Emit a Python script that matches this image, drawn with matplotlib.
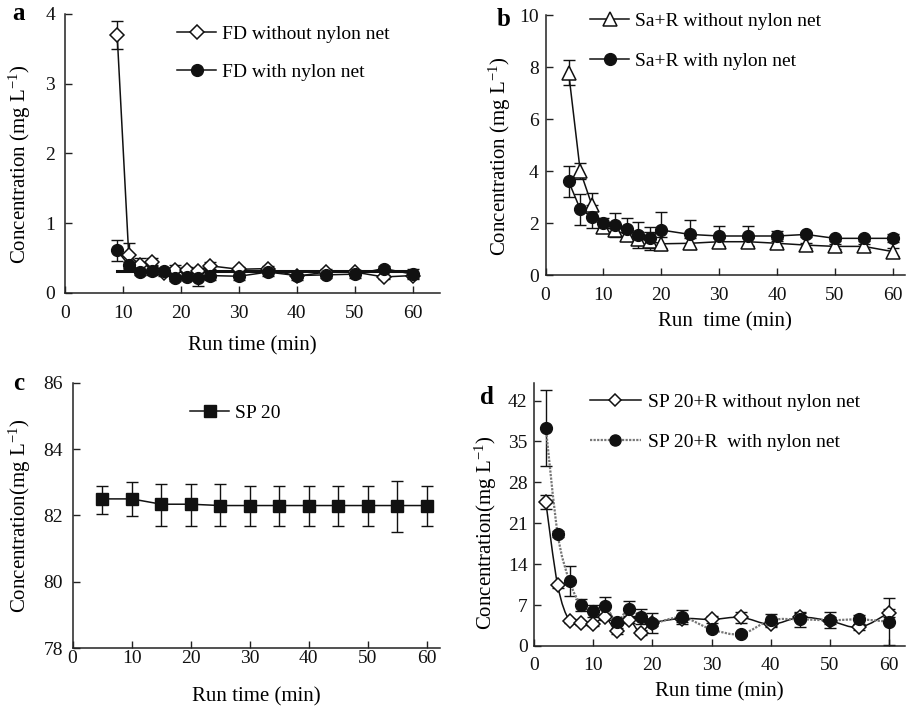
import numpy as np
import matplotlib
matplotlib.use("Agg")
import matplotlib.pyplot as plt
from matplotlib.lines import Line2D
from matplotlib.path import Path
from matplotlib.patches import PathPatch

plt.rcParams['font.family'] = ['Liberation Serif', 'DejaVu Serif']
plt.rcParams['mathtext.fontset'] = 'custom'
plt.rcParams['mathtext.rm'] = 'Liberation Serif'
plt.rcParams['mathtext.it'] = 'Liberation Serif'
plt.rcParams['font.size'] = 14

# ---------------- data ----------------
# Panel a
fd_x = [9, 11, 13, 15, 17, 19, 21, 23, 25, 30, 35, 40, 45, 50, 55, 60]
fd_without = [3.70, 0.54, 0.40, 0.45, 0.28, 0.33, 0.33, 0.32, 0.39, 0.34, 0.35, 0.24, 0.30, 0.30, 0.23, 0.25]
fd_without_err = [0.20, 0.18, 0.10, 0.05, 0.04, 0.07, 0.04, 0.04, 0.05, 0.03, 0.04, 0.03, 0.04, 0.03, 0.03, 0.03]
fd_with = [0.61, 0.40, 0.30, 0.32, 0.32, 0.21, 0.23, 0.22, 0.25, 0.24, 0.30, 0.25, 0.26, 0.27, 0.35, 0.27]
fd_with_err = [0.15, 0.05, 0.04, 0.06, 0.04, 0.04, 0.05, 0.12, 0.06, 0.06, 0.06, 0.06, 0.04, 0.06, 0.03, 0.07]
fd_mean_x = [9, 60]
fd_mean_y = [0.31, 0.31]

# Panel b
sa_x = [4, 6, 8, 10, 12, 14, 16, 18, 20, 25, 30, 35, 40, 45, 50, 55, 60]
sa_without = [7.78, 4.00, 2.70, 1.85, 1.73, 1.54, 1.40, 1.30, 1.20, 1.22, 1.28, 1.28, 1.22, 1.15, 1.10, 1.10, 0.90]
sa_without_err = [0.48, 0.30, 0.45, 0.15, 0.20, 0.20, 0.25, 0.35, 0.25, 0.20, 0.15, 0.15, 0.15, 0.10, 0.10, 0.10, 0.15]
sa_with = [3.60, 2.53, 2.24, 1.99, 1.92, 1.76, 1.54, 1.44, 1.73, 1.56, 1.50, 1.50, 1.50, 1.56, 1.41, 1.41, 1.41]
sa_with_err = [0.60, 0.60, 0.45, 0.20, 0.45, 0.45, 0.50, 0.40, 0.70, 0.55, 0.40, 0.40, 0.20, 0.10, 0.10, 0.10, 0.15]

# Panel c
sp_x = [5, 10, 15, 20, 25, 30, 35, 40, 45, 50, 55, 60]
sp_y = [82.50, 82.50, 82.34, 82.34, 82.30, 82.30, 82.30, 82.30, 82.30, 82.30, 82.30, 82.30]
sp_err_low = [0.45, 0.53, 0.67, 0.67, 0.63, 0.63, 0.63, 0.63, 0.63, 0.63, 0.80, 0.63]
sp_err_up = [0.40, 0.50, 0.61, 0.61, 0.65, 0.60, 0.60, 0.60, 0.60, 0.60, 0.75, 0.60]

# Panel d
spr_x = [2, 4, 6, 8, 10, 12, 14, 16, 18, 20, 25, 30, 35, 40, 45, 50, 55, 60]
spr_without = [24.6, 10.4, 4.3, 3.9, 3.7, 4.9, 2.6, 4.5, 2.3, 3.9, 4.7, 4.55, 4.9, 3.7, 4.9, 4.3, 3.2, 5.7]
spr_without_err = [1.2, 0.4, 0.4, 0.3, 0.3, 0.5, 0.5, 0.5, 0.4, 0.5, 0.6, 0.6, 1.0, 0.5, 0.7, 0.6, 0.5, 0.7]
spr_with = [37.3, 19.2, 11.1, 7.0, 6.0, 6.8, 4.15, 6.4, 5.0, 3.9, 4.9, 2.85, 2.05, 4.4, 4.55, 4.4, 4.55, 4.15]
spr_with_err = [6.5, 0.5, 2.6, 1.0, 1.0, 1.5, 0.5, 1.3, 1.3, 1.7, 1.2, 0.3, 0.3, 1.0, 1.3, 1.4, 0.8, 4.0]

xticks = [0, 10, 20, 30, 40, 50, 60]

# ---------------- figure ----------------
fig = plt.figure(figsize=(9.12, 7.08), dpi=100)

W, H = 912.0, 708.0
def px_axes(left, right, top, bottom):
    return fig.add_axes([left / W, 1 - bottom / H, (right - left) / W, (bottom - top) / H])

ax_a = px_axes(65, 440, 14, 293)
ax_b = px_axes(545.5, 905, 15, 275)
ax_c = px_axes(72.6, 440, 382.7, 648.3)
ax_d = px_axes(534, 905, 383, 646)

def style(ax, xpad, ypad):
    for s in ['top', 'right']:
        ax.spines[s].set_visible(False)
    for s in ['left', 'bottom']:
        ax.spines[s].set_linewidth(1.1)
        ax.spines[s].set_color('#222222')
    ax.tick_params(direction='in', length=5, width=1, colors='#222222', labelcolor='#111111', labelsize=14)
    ax.tick_params(axis='x', pad=xpad)
    ax.tick_params(axis='y', pad=ypad)
    ax.set_xticks(xticks)

eb_kw = dict(fmt='none', ecolor='#111111', elinewidth=1, capsize=4, capthick=1, zorder=2)

# ---- panel a ----
ax = ax_a
style(ax, 8.5, 7)
ax.errorbar(fd_x, fd_without, yerr=fd_without_err, **eb_kw)
ax.errorbar(fd_x, fd_with, yerr=fd_with_err, **eb_kw)
ax.plot(fd_mean_x, fd_mean_y, color='#111111', lw=2.2, zorder=2)
ax.plot(fd_x, fd_without, color='#111111', lw=1.1, marker='D', ms=7, mfc='white', mec='#111111', mew=1.1, zorder=3)
ax.plot(fd_x, fd_with, color='#111111', lw=1.1, marker='o', ms=8.5, mfc='#111111', mec='#111111', zorder=4)
ax.set_xlim(0, 64.7)
ax.set_ylim(0, 4)
ax.set_yticks([0, 1, 2, 3, 4])
ax.set_ylabel('Concentration (mg L$^{-1}$)', fontsize=15)
ax.yaxis.set_label_coords(-0.085, 0.46)
ax.set_xlabel('Run time (min)', fontsize=15)
ax.xaxis.set_label_coords(0.5, -0.155)
h1 = Line2D([], [], color='#111111', lw=1.1, marker='D', ms=7, mfc='white', mec='#111111', mew=1.1)
h2 = Line2D([], [], color='#111111', lw=1.1, marker='o', ms=8.5, mfc='#111111', mec='#111111')
ax.legend([h1, h2], ['FD without nylon net', 'FD with nylon net'], loc='upper left',
          bbox_to_anchor=(0.30, 0.96), frameon=False, borderpad=0, borderaxespad=0,
          handlelength=2.0, handletextpad=0.3, labelspacing=1.05, fontsize=14)
fig.text(19 / W, 1 - 14 / H, 'a', fontsize=18, fontweight='bold', ha='center', va='center')

# ---- panel b ----
ax = ax_b
style(ax, 9, 5)
ax.errorbar(sa_x, sa_without, yerr=sa_without_err, **eb_kw)
ax.errorbar(sa_x, sa_with, yerr=sa_with_err, **eb_kw)
ax.plot(sa_x, sa_without, color='#111111', lw=1.1, marker='^', ms=10, mfc='white', mec='#111111', mew=1.1, zorder=3)
ax.plot(sa_x, sa_with, color='#111111', lw=1.1, marker='o', ms=8.5, mfc='#111111', mec='#111111', zorder=4)
ax.set_xlim(0, 62.1)
ax.set_ylim(0, 10)
ax.set_yticks([0, 2, 4, 6, 8, 10])
ax.set_ylabel('Concentration (mg L$^{-1}$)', fontsize=15)
ax.yaxis.set_label_coords(-0.09, 0.455)
ax.set_xlabel('Run  time (min)', fontsize=15)
ax.xaxis.set_label_coords(0.5, -0.145)
h1 = Line2D([], [], color='#111111', lw=1.1, marker='^', ms=10, mfc='white', mec='#111111', mew=1.1)
h2 = Line2D([], [], color='#111111', lw=1.1, marker='o', ms=8.5, mfc='#111111', mec='#111111')
ax.legend([h1, h2], ['Sa+R without nylon net', 'Sa+R with nylon net'], loc='upper left',
          bbox_to_anchor=(0.124, 1.01), frameon=False, borderpad=0, borderaxespad=0,
          handlelength=2.0, handletextpad=0.3, labelspacing=1.15, fontsize=14)
fig.text(504 / W, 1 - 19 / H, 'b', fontsize=18, fontweight='bold', ha='center', va='center')

# ---- panel c ----
ax = ax_c
style(ax, 1.5, 7)
ax.errorbar(sp_x, sp_y, yerr=[sp_err_low, sp_err_up], **eb_kw)
ax.plot(sp_x, sp_y, color='#111111', lw=1.1, marker='s', ms=8.5, mfc='#111111', mec='#111111', zorder=3)
ax.set_xlim(0, 62.2)
ax.set_ylim(78, 86)
ax.set_yticks([78, 80, 82, 84, 86])
ax.set_ylabel('Concentration(mg L$^{-1}$)', fontsize=15)
ax.yaxis.set_label_coords(-0.108, 0.5)
ax.set_xlabel('Run time (min)', fontsize=15)
ax.xaxis.set_label_coords(0.5, -0.146)
h1 = Line2D([], [], color='#111111', lw=1.1, marker='s', ms=8.5, mfc='#111111', mec='#111111')
ax.legend([h1], ['SP 20'], loc='upper left',
          bbox_to_anchor=(0.32, 0.92), frameon=False, borderpad=0, borderaxespad=0,
          handlelength=2.0, handletextpad=0.3, fontsize=14)
fig.text(19 / W, 1 - 383 / H, 'c', fontsize=18, fontweight='bold', ha='center', va='center')

# ---- panel d ----
ax = ax_d
style(ax, 8, 4.5)

def smooth_path(xs, ys):
    pts = np.column_stack([xs, ys]).astype(float)
    n = len(pts)
    verts = [pts[0]]
    codes = [Path.MOVETO]
    for i in range(n - 1):
        p0 = pts[i - 1] if i > 0 else pts[i]
        p1 = pts[i]
        p2 = pts[i + 1]
        p3 = pts[i + 2] if i + 2 < n else pts[i + 1]
        c1 = p1 + (p2 - p0) / 6.0
        c2 = p2 - (p3 - p1) / 6.0
        verts += [c1, c2, p2]
        codes += [Path.CURVE4] * 3
    return Path(verts, codes)

ax.errorbar(spr_x, spr_without, yerr=spr_without_err, **eb_kw)
ax.errorbar(spr_x, spr_with, yerr=spr_with_err, **eb_kw)
ax.add_patch(PathPatch(smooth_path(spr_x, spr_without), fill=False, edgecolor='#111111', lw=1.1, zorder=2.5))
ax.add_patch(PathPatch(smooth_path(spr_x, spr_with), fill=False, edgecolor='#777777', lw=1.6,
                       linestyle=(0, (1, 0.6)), zorder=2.5))
ax.plot(spr_x, spr_without, ls='none', marker='D', ms=7, mfc='white', mec='#111111', mew=1.1, zorder=3)
ax.plot(spr_x, spr_with, ls='none', marker='o', ms=8.5, mfc='#111111', mec='#111111', zorder=4)
ax.set_xlim(0, 62.7)
ax.set_ylim(0, 45)
ax.set_yticks([0, 7, 14, 21, 28, 35, 42])
ax.set_ylabel('Concentration(mg L$^{-1}$)', fontsize=15)
ax.yaxis.set_label_coords(-0.094, 0.43)
ax.set_xlabel('Run time (min)', fontsize=15)
ax.xaxis.set_label_coords(0.5, -0.137)
h1 = Line2D([], [], color='#111111', lw=1.1, marker='D', ms=6, mfc='white', mec='#111111', mew=1.1)
h2 = Line2D([], [], color='#777777', lw=1.6, ls=(0, (1, 0.6)), marker='o', ms=8, mfc='#111111', mec='#111111')
ax.legend([h1, h2], ['SP 20+R without nylon net', 'SP 20+R  with nylon net'], loc='upper left',
          bbox_to_anchor=(0.151, 0.962), frameon=False, borderpad=0, borderaxespad=0,
          handlelength=2.6, handletextpad=0.4, labelspacing=1.15, fontsize=14)
fig.text(487 / W, 1 - 398 / H, 'd', fontsize=18, fontweight='bold', ha='center', va='center')

fig.savefig('out.png', dpi=100)
